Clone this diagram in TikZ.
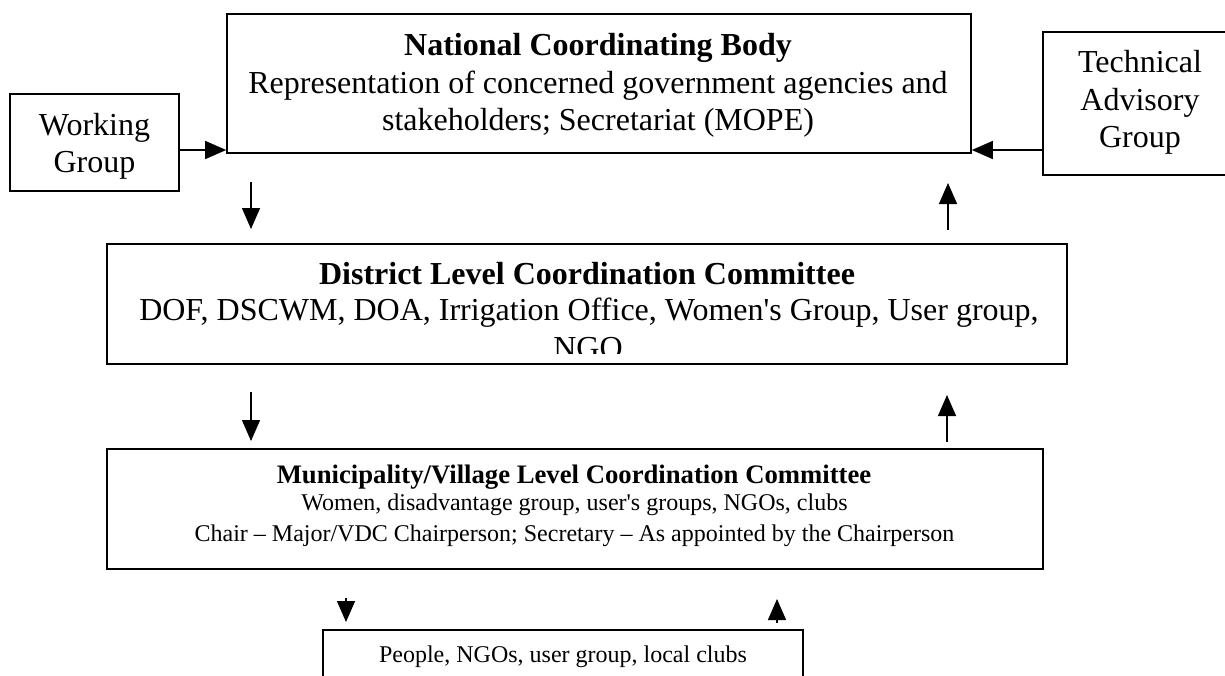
\documentclass[tikz,border=0pt]{standalone}
\usepackage{fontspec}
\setmainfont{Liberation Serif}
\usetikzlibrary{arrows.meta}
\begin{document}
\begin{tikzpicture}[x=1pt,y=-1pt,
  box/.style={draw,line width=1.6pt,rectangle,inner sep=0pt},
  txt/.style={inner sep=0pt,anchor=base,font=\fontsize{32}{37}\selectfont},
  ttl/.style={inner sep=0pt,anchor=base,font=\fontsize{32}{37}\selectfont\bfseries},
  mtxt/.style={inner sep=0pt,anchor=base,font=\fontsize{24}{28}\selectfont},
  mttl/.style={inner sep=0pt,anchor=base,font=\fontsize{26.7}{30}\selectfont\bfseries},
  arr/.style={line width=1.4pt,-{Triangle[length=21pt,width=18pt]}}]
\useasboundingbox (0,0) rectangle (1225,675);
\fill[white] (0,0) rectangle (1225,675);
\clip (0,0) rectangle (1225,675);

% boxes
\node[box,minimum width=744pt,minimum height=139pt] (ncb) at (599,83.5) {};
\node[box,minimum width=169pt,minimum height=97pt] (wg) at (94.5,142.5) {};
\node[box,minimum width=194pt,minimum height=143pt] (tag) at (1140,103.5) {};
\node[box,minimum width=960pt,minimum height=120pt] (dlc) at (587,304) {};
\node[box,minimum width=936pt,minimum height=120pt] (mvl) at (575,509) {};
\node[box,minimum width=480pt,minimum height=70pt] (ppl) at (563,665) {};

% National
\node[ttl] (ncb1) at (598,55) {National Coordinating Body};
\node[txt] (ncb2) at (598,93) {Representation of concerned government agencies and};
\node[txt] (ncb3) at (598,130) {stakeholders; Secretariat (MOPE)};
% Working group
\node[txt] (wg1) at (94.5,135) {Working};
\node[txt] (wg2) at (94.5,172) {Group};
% Technical
\node[txt] (tag1) at (1140,72) {Technical};
\node[txt] (tag2) at (1140,110) {Advisory};
\node[txt] (tag3) at (1140,147) {Group};
% District
\node[ttl] (dlc1) at (587,284) {District Level Coordination Committee};
\node[txt] (dlc2) at (589,320) {DOF, DSCWM, DOA, Irrigation Office, Women\textquotesingle s Group, User group,};
\begin{scope}
  \clip (107,244) rectangle (1067,353);
  \node[txt] (dlc3) at (588,358) {NGO};
\end{scope}
% Municipality
\node[mttl] (mvl1) at (574,483) {Municipality/Village Level Coordination Committee};
\node[mtxt] (mvl2) at (574.5,510) {Women, disadvantage group, user\textquotesingle s groups, NGOs, clubs};
\node[mtxt] (mvl3) at (574.5,541) {Chair – Major/VDC Chairperson; Secretary – As appointed by the Chairperson};
% People
\node[mtxt] (ppl1) at (563,662) {People, NGOs, user group, local clubs};

% horizontal arrows
\draw[arr] (wg.east |- 0,150) -- (ncb.west |- 0,150);
\draw[arr] (tag.west |- 0,150) -- (ncb.east |- 0,150);

% vertical arrows (free)
\coordinate (d1s) at (251,182); \coordinate (d1e) at (251,229);
\coordinate (u1s) at (948,230); \coordinate (u1e) at (948,183);
\coordinate (d2s) at (251,392); \coordinate (d2e) at (251,441);
\coordinate (u2s) at (947,442); \coordinate (u2e) at (947,395);
\coordinate (d3s) at (346,598); \coordinate (d3e) at (346,622);
\coordinate (u3s) at (777,623); \coordinate (u3e) at (777,599);
\draw[arr] (d1s) -- (d1e);
\draw[arr] (u1s) -- (u1e);
\draw[arr] (d2s) -- (d2e);
\draw[arr] (u2s) -- (u2e);
\draw[arr] (d3s) -- (d3e);
\draw[arr] (u3s) -- (u3e);
\end{tikzpicture}
\end{document}
